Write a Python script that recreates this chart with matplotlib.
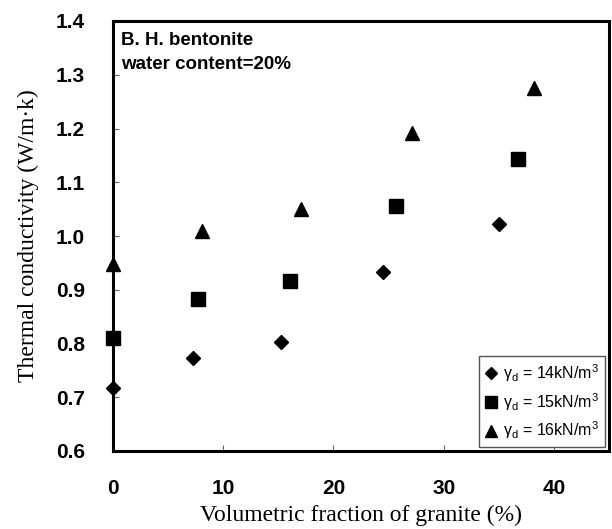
import matplotlib
matplotlib.use("Agg")
import matplotlib.pyplot as plt

# Data
x14 = [0.0, 7.3, 15.2, 24.5, 35.0]
y14 = [0.718, 0.773, 0.803, 0.933, 1.022]
x15 = [0.0, 7.7, 16.1, 25.7, 36.7]
y15 = [0.811, 0.882, 0.916, 1.056, 1.143]
x16 = [0.0, 8.1, 17.1, 27.1, 38.2]
y16 = [0.947, 1.009, 1.050, 1.191, 1.276]

labels = ["γ$_\\mathrm{d}$ = 14kN/m$^3$",
          "γ$_\\mathrm{d}$ = 15kN/m$^3$",
          "γ$_\\mathrm{d}$ = 16kN/m$^3$"]
xticks = [0, 10, 20, 30, 40]
yticks = [0.6, 0.7, 0.8, 0.9, 1.0, 1.1, 1.2, 1.3, 1.4]

plt.rcParams['mathtext.fontset'] = 'custom'
plt.rcParams['mathtext.rm'] = 'Liberation Sans'
plt.rcParams['mathtext.it'] = 'Liberation Sans:italic'

fig = plt.figure(figsize=(6.12, 5.29), dpi=100)
ax = fig.add_axes([113/612, 1-451/529, (609-113)/612, (451-21)/529])

ax.plot(x14, y14, 'D', color='black', markersize=7, linestyle='none', label=labels[0], clip_on=False, zorder=5)
ax.plot(x15, y15, 's', color='black', markersize=9.5, linestyle='none', label=labels[1], clip_on=False, zorder=5)
ax.plot(x16, y16, '^', color='black', markersize=9.5, linestyle='none', label=labels[2], clip_on=False, zorder=5)

ax.set_xlim(0, 45)
ax.set_ylim(0.6, 1.4)
ax.set_xticks(xticks)
ax.set_yticks(yticks)
ax.set_yticklabels([f"{v:.1f}" for v in yticks])

for s in ax.spines.values():
    s.set_linewidth(2.2)
ax.tick_params(direction='in', length=4, width=0.8, color='#666666')
ax.tick_params(axis='x', pad=20)
ax.tick_params(axis='y', pad=20)
for lab in ax.get_xticklabels() + ax.get_yticklabels():
    lab.set_fontfamily('Liberation Sans')
    lab.set_fontweight('bold')
    lab.set_fontsize(15)

ax.set_xlabel("Volumetric fraction of granite (%)", family='Liberation Serif', fontsize=17, labelpad=5)
ax.set_ylabel("Thermal conductivity (W/m·k)", family='Liberation Serif', fontsize=17, labelpad=12)

ax.text(0.016, 0.975, "B. H. bentonite\nwater content=20%", transform=ax.transAxes,
        ha='left', va='top', family='Liberation Sans', fontweight='bold', fontsize=13.5,
        linespacing=1.55)

leg = ax.legend(loc='lower right', prop={'family': 'Liberation Sans', 'size': 11.5},
                frameon=True, fancybox=False, edgecolor='#555555', framealpha=1,
                borderaxespad=0.25, handlelength=0.8, handletextpad=0.4, labelspacing=0.45,
                borderpad=0.35, markerscale=0.85)
leg.get_frame().set_linewidth(1.0)

fig.savefig("out.png", dpi=100)
